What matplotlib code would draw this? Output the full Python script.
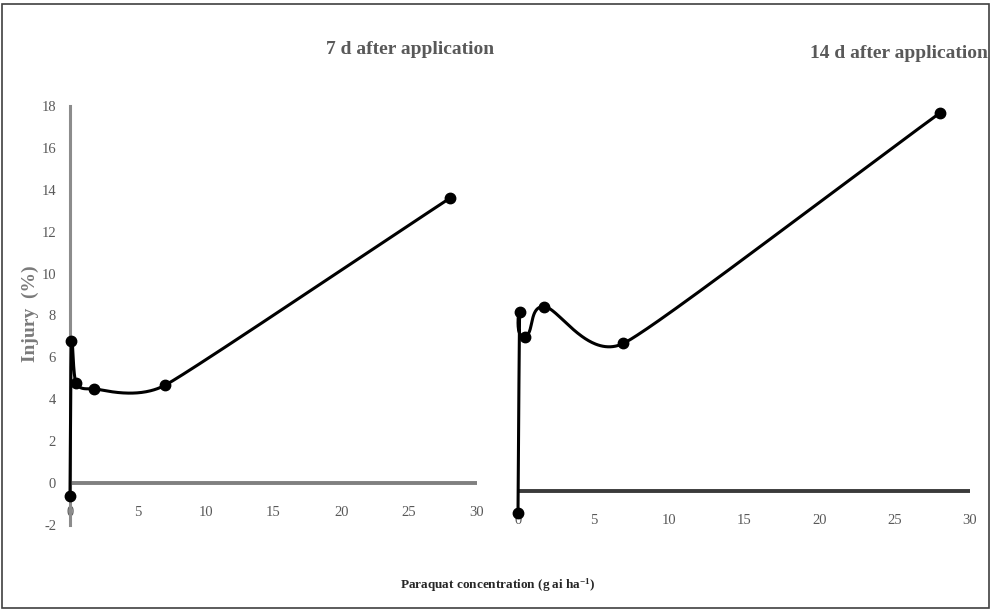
import numpy as np
import matplotlib
matplotlib.use("Agg")
import matplotlib.pyplot as plt
from matplotlib.patches import Rectangle

# ---------------- data ----------------
dose = [0, 0.109, 0.4375, 1.75, 7, 28]           # g ai ha-1
injury_7d = [-0.6, 6.76, 4.8, 4.5, 4.67, 13.6]    # %
injury_14d = [-1.05, 8.54, 7.35, 8.78, 7.03, 18.0]  # %
x_ticks = [0, 5, 10, 15, 20, 25, 30]
y_ticks = [-2, 0, 2, 4, 6, 8, 10, 12, 14, 16, 18]
titles = ["7 d after application", "14 d after application"]

plt.rcParams['font.family'] = ['Liberation Serif', 'DejaVu Serif']
plt.rcParams['mathtext.default'] = 'regular'

W, H = 992, 611
fig = plt.figure(figsize=(W / 100, H / 100), dpi=100)


def smooth(x, y, sx, sy, k=0.45, c=0.4, n=80):
    """Excel-like smoothed line: cubic Bezier segments with tangent
    directions from neighbouring points, control length limited by the
    neighbouring segment length (computed in pixel space)."""
    P = np.column_stack([np.asarray(x, float) * sx, np.asarray(y, float) * sy])
    seglen = np.linalg.norm(np.diff(P, axis=0), axis=1)
    m = len(P)
    out = []
    for i in range(m - 1):
        p1, p2 = P[i], P[i + 1]
        L = seglen[i]
        if i > 0:
            d = P[i + 1] - P[i - 1]
            d = d / np.linalg.norm(d)
            c1 = p1 + d * min(k * L, c * seglen[i - 1])
        else:
            c1 = p1 + (p2 - p1) / 3
        if i + 2 < m:
            d = P[i + 2] - P[i]
            d = d / np.linalg.norm(d)
            c2 = p2 - d * min(k * L, c * seglen[i + 1])
        else:
            c2 = p2 - (p2 - p1) / 3
        t = np.linspace(0, 1, n)[:, None]
        seg = ((1 - t) ** 3 * p1 + 3 * (1 - t) ** 2 * t * c1
               + 3 * (1 - t) * t ** 2 * c2 + t ** 3 * p2)
        out.append(seg if i == 0 else seg[1:])
    out = np.vstack(out)
    return out[:, 0] / sx, out[:, 1] / sy


def make_axes(px_left, px_right, px_top, px_bottom):
    return fig.add_axes([px_left / W, (H - px_bottom) / H,
                         (px_right - px_left) / W, (px_bottom - px_top) / H])


tick_color = '#595959'

axL = make_axes(70, 477, 106, 525)
axR = make_axes(518, 970, 113, 533)

for ax, yv, zc in [(axL, injury_7d, '#808080'),
                   (axR, injury_14d, '#3a3a3a')]:
    ax.set_xlim(0, 30)
    ax.set_ylim(-2, 18)
    bb = ax.get_position()
    sx = bb.width * W / 30.0
    sy = bb.height * H / 20.0
    ax.axhline(0, color=zc, lw=2.8, zorder=1)
    xs, ys = smooth(dose, yv, sx, sy)
    ax.plot(xs, ys, color='black', lw=2.2, zorder=3, clip_on=False)
    ax.plot(dose, yv, 'o', color='black', ms=7.5, zorder=4, clip_on=False)
    for s in ['top', 'right', 'bottom']:
        ax.spines[s].set_visible(False)
    ax.set_xticks(x_ticks)
    ax.set_xticklabels([str(v) for v in x_ticks])
    ax.tick_params(axis='x', length=0, pad=-14, labelsize=10.5, labelcolor=tick_color)
    ax.patch.set_visible(False)

# left panel y axis
axL.spines['left'].set_color('#8c8c8c')
axL.spines['left'].set_linewidth(2.2)
axL.spines['left'].set_zorder(2)
axL.set_yticks(y_ticks)
axL.set_yticklabels([str(v) for v in y_ticks])
axL.tick_params(axis='y', length=0, pad=10, labelsize=10.5, labelcolor=tick_color)

# right panel: no y axis
axR.spines['left'].set_visible(False)
axR.set_yticks([])

# titles
fig.text(410 / W, 1 - 50 / H, titles[0], ha='center', va='center',
         fontsize=14, fontweight='bold', color='#595959')
fig.text(899 / W, 1 - 54 / H, titles[1], ha='center', va='center',
         fontsize=14, fontweight='bold', color='#595959')

# axis labels
fig.text(30 / W, 1 - 314 / H, 'Injury  (%)', rotation=90, ha='center', va='center',
         fontsize=14, fontweight='bold', color='#7a7a7a')
fig.text(498 / W, 1 - 585 / H, 'Paraquat concentration (g ai ha$^{-1}$)',
         ha='center', va='center', fontsize=9.5, fontweight='bold', color='#262626')

# outer frame
fig.patches.append(Rectangle((2 / W, 3 / H), (W - 5) / W, (H - 7) / H,
                             transform=fig.transFigure, fill=False,
                             ec='#404040', lw=1.2))

fig.savefig('out.png', dpi=100)
